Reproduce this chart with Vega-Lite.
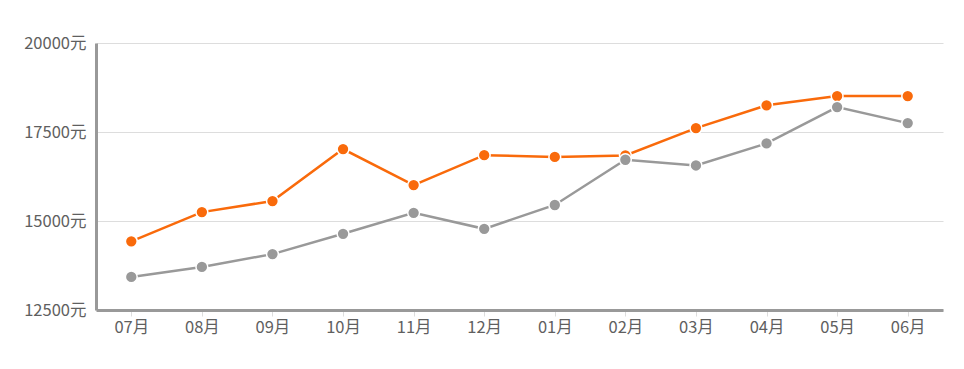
{
  "$schema": "https://vega.github.io/schema/vega-lite/v6.json",
  "autosize": "none",
  "width": 847,
  "height": 267,
  "padding": {"left": 96, "top": 43, "right": 21, "bottom": 59},
  "background": "white",
  "config": {
    "view": {"stroke": null},
    "font": "Noto Sans CJK SC"
  },
  "data": {
    "values": [
      {"month": "07月", "series": "A", "price": 14430},
      {"month": "08月", "series": "A", "price": 15250},
      {"month": "09月", "series": "A", "price": 15560},
      {"month": "10月", "series": "A", "price": 17020},
      {"month": "11月", "series": "A", "price": 16010},
      {"month": "12月", "series": "A", "price": 16850},
      {"month": "01月", "series": "A", "price": 16800},
      {"month": "02月", "series": "A", "price": 16840},
      {"month": "03月", "series": "A", "price": 17610},
      {"month": "04月", "series": "A", "price": 18250},
      {"month": "05月", "series": "A", "price": 18510},
      {"month": "06月", "series": "A", "price": 18510},
      {"month": "07月", "series": "B", "price": 13430},
      {"month": "08月", "series": "B", "price": 13710},
      {"month": "09月", "series": "B", "price": 14070},
      {"month": "10月", "series": "B", "price": 14640},
      {"month": "11月", "series": "B", "price": 15230},
      {"month": "12月", "series": "B", "price": 14780},
      {"month": "01月", "series": "B", "price": 15450},
      {"month": "02月", "series": "B", "price": 16720},
      {"month": "03月", "series": "B", "price": 16560},
      {"month": "04月", "series": "B", "price": 17180},
      {"month": "05月", "series": "B", "price": 18200},
      {"month": "06月", "series": "B", "price": 17750}
    ]
  },
  "encoding": {
    "x": {
      "field": "month",
      "type": "ordinal",
      "sort": null,
      "scale": {"type": "point", "padding": 0.5},
      "axis": {
        "title": null,
        "labelAngle": 0,
        "labelFontSize": 16.5,
        "labelColor": "#5f5f5f",
        "labelPadding": 3,
        "domainColor": "#999999",
        "domainWidth": 3,
        "tickColor": "#dddddd",
        "tickSize": 6,
        "grid": false
      }
    },
    "y": {
      "field": "price",
      "type": "quantitative",
      "scale": {"domain": [12500, 20000], "nice": false, "zero": false},
      "axis": {
        "title": null,
        "values": [12500, 15000, 17500, 20000],
        "labelExpr": "datum.value + '元'",
        "labelFontSize": 16.5,
        "labelColor": "#5f5f5f",
        "labelPadding": 10,
        "ticks": false,
        "domainColor": "#999999",
        "domainWidth": 3,
        "gridColor": "#dddddd",
        "gridWidth": 1
      }
    },
    "color": {
      "field": "series",
      "type": "nominal",
      "scale": {"domain": ["A", "B"], "range": ["#f96a0b", "#999999"]},
      "legend": null
    }
  },
  "layer": [
    {"mark": {"type": "line", "strokeWidth": 2.5}},
    {"mark": {"type": "point", "filled": true, "size": 140, "opacity": 1, "stroke": "white", "strokeWidth": 1.5}}
  ]
}
